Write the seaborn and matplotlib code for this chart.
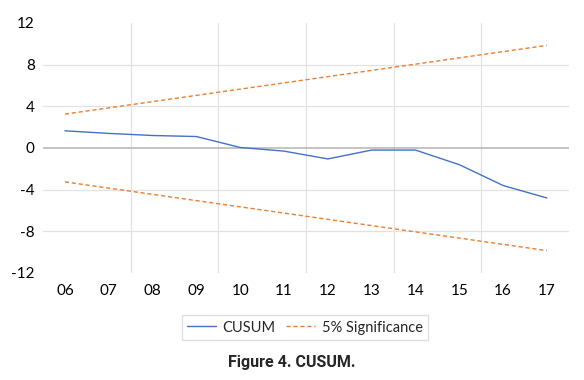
import matplotlib
matplotlib.use("Agg")
import matplotlib.pyplot as plt
import seaborn as sns
import pandas as pd

years = ["06", "07", "08", "09", "10", "11", "12", "13", "14", "15", "16", "17"]
cusum = [1.65, 1.4, 1.2, 1.1, 0.05, -0.3, -1.05, -0.2, -0.2, -1.6, -3.6, -4.8]
upper = [3.25, 3.85, 4.45, 5.05, 5.65, 6.25, 6.85, 7.45, 8.05, 8.65, 9.25, 9.85]
lower = [-3.25, -3.85, -4.45, -5.05, -5.65, -6.25, -6.85, -7.45, -8.05, -8.65, -9.25, -9.85]
yticks = [-12, -8, -4, 0, 4, 8, 12]

sns.set_style("white")
plt.rcParams['font.family'] = ['Lato', 'DejaVu Sans']

df = pd.DataFrame({"year": years, "cusum": cusum, "upper": upper, "lower": lower})

fig = plt.figure(figsize=(5.84, 3.8), dpi=100)
ax = fig.add_axes([0.0736, 0.2816, 0.974 - 0.0736, 0.9395 - 0.2816])

blue = "#4472C4"
orange = "#ED7D31"

sns.lineplot(data=df, x="year", y="cusum", ax=ax, color=blue, linewidth=1.0,
             label="CUSUM", sort=False, zorder=3)
sns.lineplot(data=df, x="year", y="upper", ax=ax, color=orange, linewidth=1.0,
             linestyle=(0, (3, 2)), label="5% Significance", sort=False, zorder=3)
sns.lineplot(data=df, x="year", y="lower", ax=ax, color=orange, linewidth=1.0,
             linestyle=(0, (3, 2)), sort=False, zorder=3)

ax.set_xlim(-0.5, len(years) - 0.5)
ax.set_ylim(-12, 12)
ax.set_yticks(yticks)
ax.set_yticklabels([str(t) for t in yticks])

grid_c = "#E2E2E2"
for t in [-8, -4, 4, 8]:
    ax.axhline(t, color=grid_c, linewidth=0.9, zorder=1)
ax.axhline(0, color="#B4B4B4", linewidth=1.1, zorder=2)
for xv in [1.5, 3.5, 5.5, 7.5, 9.5]:
    ax.axvline(xv, color=grid_c, linewidth=0.9, zorder=1)

for s in ax.spines.values():
    s.set_visible(False)
ax.tick_params(axis="both", length=0, labelsize=11, colors="#000000")
ax.tick_params(axis="x", pad=8)
ax.tick_params(axis="y", pad=6)
ax.set_xlabel("")
ax.set_ylabel("")

handles, labels = ax.get_legend_handles_labels()
ax.get_legend().remove()
leg = fig.legend(handles[:2], labels[:2], loc="center", bbox_to_anchor=(0.522, 0.138),
                 ncol=2, frameon=True, fancybox=False, fontsize=10.5,
                 handlelength=2.0, columnspacing=0.7, handletextpad=0.45,
                 borderpad=0.35)
leg.get_frame().set_edgecolor("#D9D9D9")
leg.get_frame().set_linewidth(1.0)

fig.text(0.5, 0.045, "Figure 4. CUSUM.", ha="center", va="center",
         fontsize=11.5, fontweight="bold", family=["Roboto", "DejaVu Sans"],
         fontstretch="condensed")

fig.savefig("out.png", dpi=100)
